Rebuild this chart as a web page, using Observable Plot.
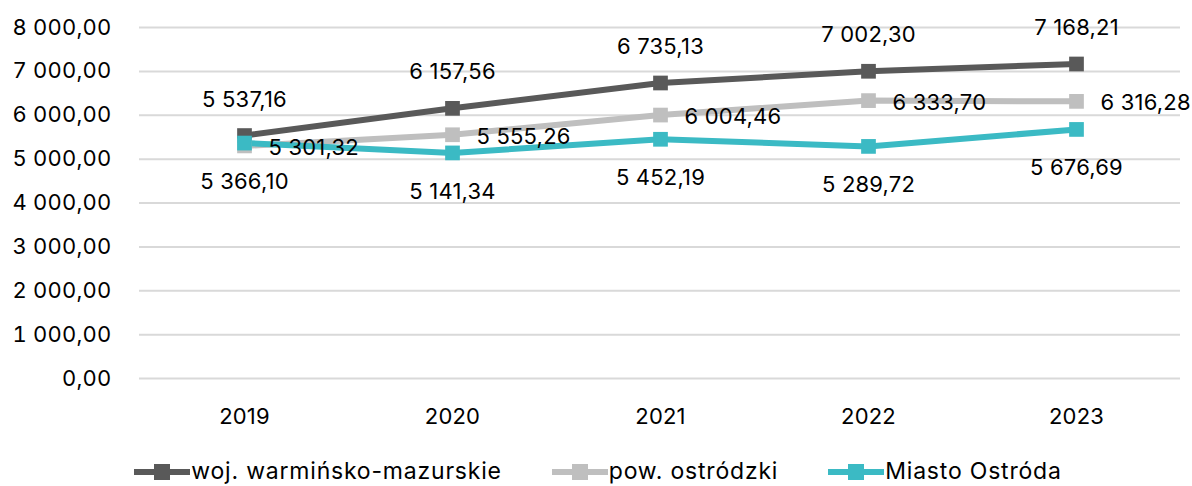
<!DOCTYPE html>
<html><head><meta charset="utf-8">
<script src="https://cdn.jsdelivr.net/npm/d3@7"></script>
<script src="https://cdn.jsdelivr.net/npm/@observablehq/plot@0.6"></script>
<style>
body{margin:0;background:#fff;font-family:"Inter",sans-serif;overflow:hidden;position:relative;width:1192px;height:486px}
#legend{position:absolute;left:0;top:457px;width:1192px;display:flex;justify-content:center;align-items:center;gap:50px;height:28px;font-size:23px;line-height:28px;letter-spacing:0.8px;color:#000;padding-left:4px;box-sizing:border-box}
#legend .it{display:flex;align-items:center;gap:1px}
</style></head><body>
<div id="chart"></div>
<div id="legend"></div>
<script>
const years = ["2019","2020","2021","2022","2023"];
const seriesNames = ["woj. warmińsko-mazurskie","pow. ostródzki","Miasto Ostróda"];
const woj = [5537.16, 6157.56, 6735.13, 7002.30, 7168.21];
const pow = [5301.32, 5555.26, 6004.46, 6333.70, 6316.28];
const miasto = [5366.10, 5141.34, 5452.19, 5289.72, 5676.69];
const yTicks = [0,1000,2000,3000,4000,5000,6000,7000,8000];
const colors = ["#595959","#BFBFBF","#3BBAC4"];

const loc = d3.formatLocale({decimal:",",thousands:" ",grouping:[3],currency:["",""]});
const fmt = loc.format(",.2f");
const values = [woj,pow,miasto];
const data = [];
values.forEach((arr,si)=>arr.forEach((v,i)=>data.push({series:seriesNames[si],year:years[i],value:v,si})));
const sub = si => data.filter(d=>d.si===si);

const chart = Plot.plot({
  width:1192, height:440,
  marginLeft:139, marginRight:12, marginTop:27, marginBottom:62,
  style:{fontFamily:"Inter, sans-serif", fontSize:"22px", color:"#000", background:"#fff", letterSpacing:"0.2px"},
  x:{type:"point", domain:years, padding:0.5, label:null},
  y:{domain:[0,8000], label:null},
  marks:[
    Plot.gridY(yTicks,{stroke:"#D9D9D9", strokeOpacity:1, strokeWidth:2}),
    Plot.axisY(yTicks,{tickSize:0, tickPadding:28, tickFormat:fmt, fontSize:22, fill:"#000"}),
    Plot.axisX(years,{tickSize:0, tickPadding:30, fontSize:22, fill:"#000"}),
    ...[0,1,2].map(si=>Plot.line(sub(si),{x:"year",y:"value",stroke:colors[si],strokeWidth:6})),
    ...[0,1,2].map(si=>Plot.dot(sub(si),{x:"year",y:"value",symbol:"square",r:8.3,fill:colors[si],stroke:"none"})),
    Plot.text(sub(0),{x:"year",y:"value",text:d=>fmt(d.value),dy:-36,fontSize:22,fill:"#000"}),
    Plot.text(sub(1),{x:"year",y:"value",text:d=>fmt(d.value),dx:24,dy:2,textAnchor:"start",fontSize:22,fill:"#000"}),
    Plot.text(sub(2),{x:"year",y:"value",text:d=>fmt(d.value),dy:39,fontSize:22,fill:"#000"})
  ]
});
document.getElementById("chart").appendChild(chart);

const leg = document.getElementById("legend");
seriesNames.forEach((n,i)=>{
  const it = document.createElement("div"); it.className="it";
  it.innerHTML = `<svg width="56" height="20"><line x1="0" x2="56" y1="11" y2="11" stroke="${colors[i]}" stroke-width="6"/><rect x="20" y="3" width="16" height="16" fill="${colors[i]}"/></svg><span>${n}</span>`;
  leg.appendChild(it);
});
</script>
</body></html>
